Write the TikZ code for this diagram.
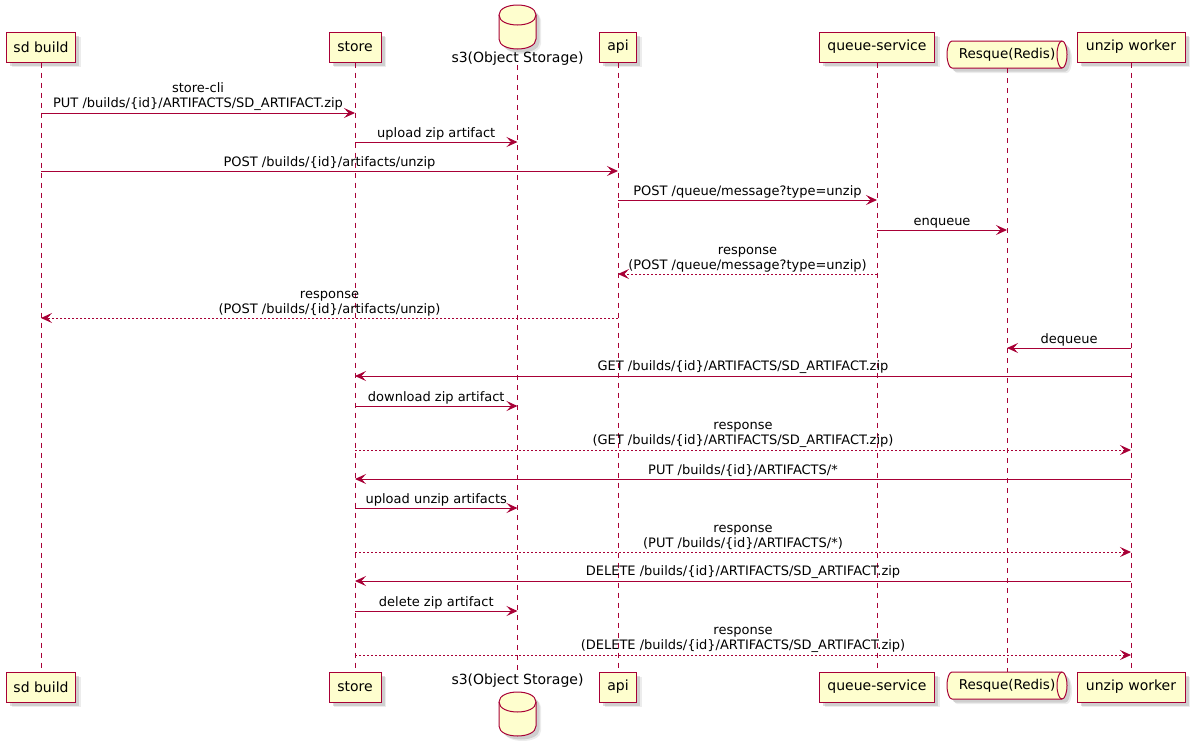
\documentclass[tikz,border=0pt]{standalone}
\usepackage{fontspec}
\setmainfont{DejaVu Sans}
\usetikzlibrary{arrows.meta,shadows}
\definecolor{pline}{HTML}{A80036}
\definecolor{pfill}{HTML}{FEFECE}
\newcommand\idb{\{id\}}
\tikzset{
  shd/.style={drop shadow={shadow xshift=5pt,shadow yshift=-5pt,fill=black!60,opacity=0.12},
              drop shadow={shadow xshift=3.5pt,shadow yshift=-3.5pt,fill=black!60,opacity=0.22}},
  part/.style={draw=pline, fill=pfill, line width=1pt, inner sep=0pt, minimum height=30pt,
    font=\fontsize{14}{16}\selectfont, shd},
  shapeline/.style={draw=pline, fill=pfill, line width=1pt, shd},
  life/.style={draw=pline, line width=1pt, dash pattern=on 5pt off 5pt},
  msg/.style={draw=pline, line width=1pt, -{Stealth[length=11pt,width=10pt,inset=4.5pt]}},
  reply/.style={msg, dash pattern=on 2pt off 2pt},
  lbl/.style={above=1.5pt, inner sep=0pt, align=center, font=\fontsize{13}{15}\selectfont, text=black},
  s3lbl/.style={inner sep=0pt, anchor=base, font=\fontsize{14}{16}\selectfont},
  qlbl/.style={inner sep=0pt, minimum width=120pt, minimum height=27pt, font=\fontsize{13.5}{16}\selectfont},
}
\newcommand\dbshape[1]{%
  \path[shapeline] (499,#1+10) .. controls (499,#1-3.33) and (536,#1-3.33) .. (536,#1+10)
    -- (536,#1+34) .. controls (536,#1+47.33) and (499,#1+47.33) .. (499,#1+34) -- cycle;
  \draw[pline, line width=1pt] (499,#1+10) .. controls (499,#1+23.33) and (536,#1+23.33) .. (536,#1+10);
}
\newcommand\qshape[1]{%
  \path[shapeline] (952,#1) -- (1062,#1)
    .. controls (1064.76,#1) and (1067,#1+6.04) .. (1067,#1+13.5)
    .. controls (1067,#1+20.96) and (1064.76,#1+27) .. (1062,#1+27)
    -- (952,#1+27)
    .. controls (949.24,#1+27) and (947,#1+20.96) .. (947,#1+13.5)
    .. controls (947,#1+6.04) and (949.24,#1) .. (952,#1) -- cycle;
  \draw[pline, line width=1pt] (1062,#1) .. controls (1059.24,#1) and (1057,#1+6.04) .. (1057,#1+13.5)
    .. controls (1057,#1+20.96) and (1059.24,#1+27) .. (1062,#1+27);
}
\begin{document}
\begin{tikzpicture}[x=1pt, y=-1pt]
\useasboundingbox (0,0) rectangle (1197,740);

% shapes for s3 and Resque
\dbshape{5}
\dbshape{692}
\qshape{41}
\qshape{672}

% participants (top)
\node[part, minimum width=69pt]  (sdT) at (41,47)   {sd build};
\node[part, minimum width=52pt]  (stT) at (355,47)  {store};
\node[s3lbl] (s3T) at (517.5,62) {s3(Object Storage)};
\node[part, minimum width=37pt]  (apT) at (618,47)  {api};
\node[part, minimum width=115pt] (qsT) at (877,47)  {queue-service};
\node[qlbl] (rqT) at (1007,54.5) {Resque(Redis)\hspace{10pt}};
\node[part, minimum width=108pt] (uwT) at (1131,47) {unzip worker};

% participants (bottom)
\node[part, minimum width=69pt]  (sdB) at (41,687)   {sd build};
\node[part, minimum width=52pt]  (stB) at (355,687)  {store};
\node[s3lbl] (s3B) at (517.5,684) {s3(Object Storage)};
\node[part, minimum width=37pt]  (apB) at (618,687)  {api};
\node[part, minimum width=115pt] (qsB) at (877,687)  {queue-service};
\node[qlbl] (rqB) at (1007,685.5) {Resque(Redis)\hspace{10pt}};
\node[part, minimum width=108pt] (uwB) at (1131,687) {unzip worker};

% lifelines
\draw[life] (sdT.south) -- (sdB.north);
\draw[life] (stT.south) -- (stB.north);
\draw[life] (s3T.south) -- (s3B.north);
\draw[life] (apT.south) -- (apB.north);
\draw[life] (qsT.south) -- (qsB.north);
\draw[life] (rqT.south) -- (rqB.north);
\draw[life] (uwT.south) -- (uwB.north);

% messages
\draw[msg] (sdT |- 0,113) -- node[lbl] {store-cli\\PUT /builds/\idb/ARTIFACTS/SD\_ARTIFACT.zip} (stT |- 0,113);
\draw[msg] (stT |- 0,142) -- node[lbl] {upload zip artifact} (s3T |- 0,142);
\draw[msg] (sdT |- 0,171) -- node[lbl] {POST /builds/\idb/artifacts/unzip} (apT |- 0,171);
\draw[msg] (apT |- 0,200) -- node[lbl] {POST /queue/message?type=unzip} (qsT |- 0,200);
\draw[msg] (qsT |- 0,230) -- node[lbl] {enqueue} (rqT |- 0,230);
\draw[reply] (qsT |- 0,274) -- node[lbl] {response\\(POST /queue/message?type=unzip)} (apT |- 0,274);
\draw[reply] (apT |- 0,318) -- node[lbl] {response\\(POST /builds/\idb/artifacts/unzip)} (sdT |- 0,318);
\draw[msg] (uwT |- 0,348) -- node[lbl] {dequeue} (rqT |- 0,348);
\draw[msg] (uwT |- 0,376) -- node[lbl] {GET /builds/\idb/ARTIFACTS/SD\_ARTIFACT.zip} (stT |- 0,376);
\draw[msg] (stT |- 0,406) -- node[lbl] {download zip artifact} (s3T |- 0,406);
\draw[reply] (stT |- 0,450) -- node[lbl] {response\\(GET /builds/\idb/ARTIFACTS/SD\_ARTIFACT.zip)} (uwT |- 0,450);
\draw[msg] (uwT |- 0,479) -- node[lbl] {PUT /builds/\idb/ARTIFACTS/*} (stT |- 0,479);
\draw[msg] (stT |- 0,508) -- node[lbl] {upload unzip artifacts} (s3T |- 0,508);
\draw[reply] (stT |- 0,552) -- node[lbl] {response\\(PUT /builds/\idb/ARTIFACTS/*)} (uwT |- 0,552);
\draw[msg] (uwT |- 0,581) -- node[lbl] {DELETE /builds/\idb/ARTIFACTS/SD\_ARTIFACT.zip} (stT |- 0,581);
\draw[msg] (stT |- 0,611) -- node[lbl] {delete zip artifact} (s3T |- 0,611);
\draw[reply] (stT |- 0,655) -- node[lbl] {response\\(DELETE /builds/\idb/ARTIFACTS/SD\_ARTIFACT.zip)} (uwT |- 0,655);
\end{tikzpicture}
\end{document}
